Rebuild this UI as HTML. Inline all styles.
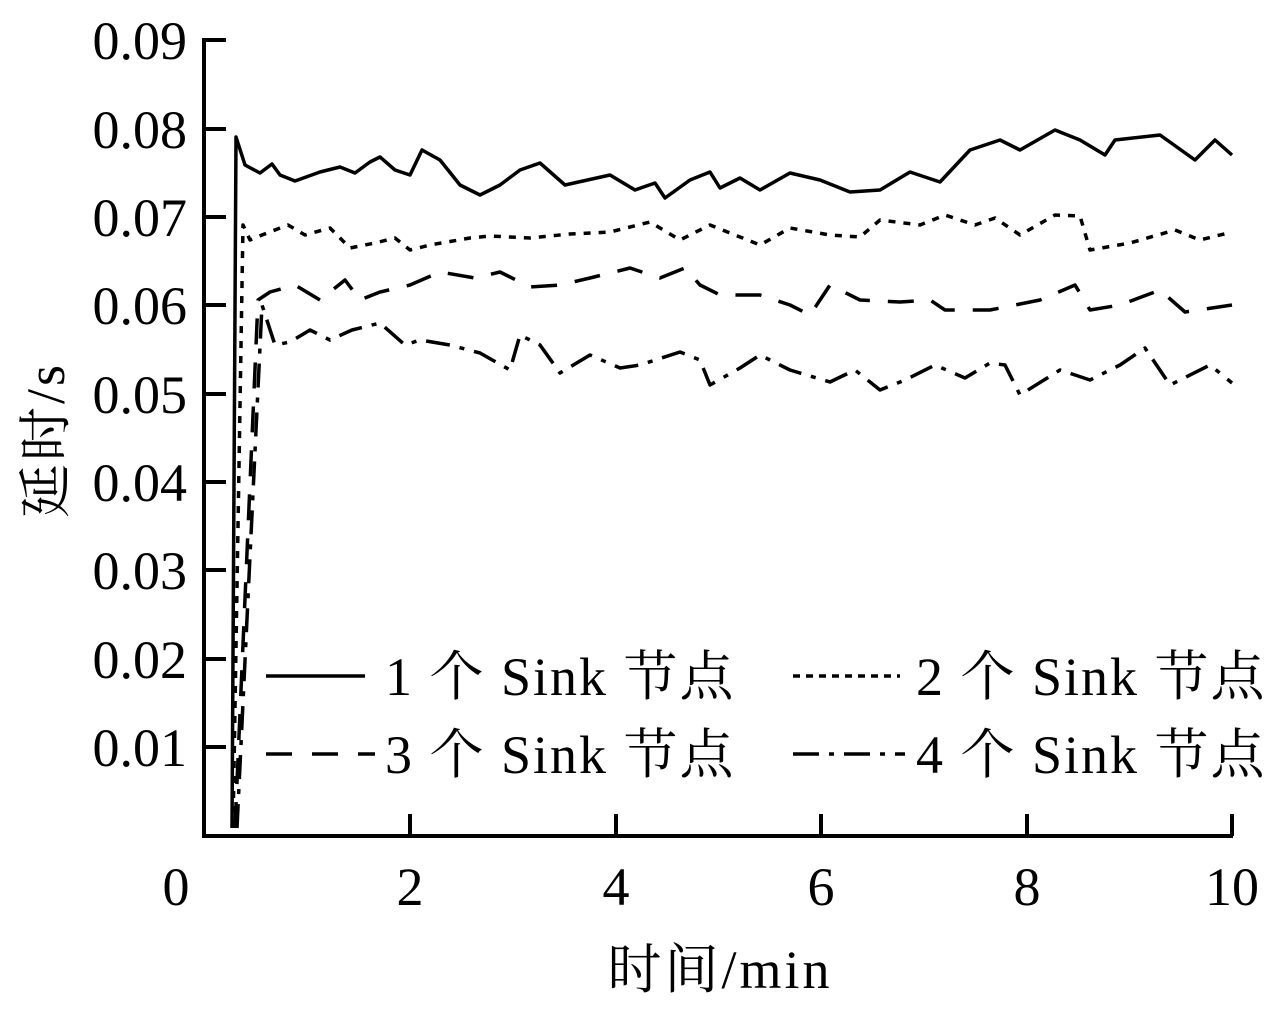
<!DOCTYPE html>
<html><head><meta charset="utf-8"><style>
html,body{margin:0;padding:0;background:#fff}
svg text{font-family:"Liberation Serif","Noto Serif CJK SC",serif;fill:#000}
</style></head><body>
<svg width="1275" height="1007" viewBox="0 0 1275 1007" xmlns="http://www.w3.org/2000/svg">
<g stroke="#000" stroke-width="4" fill="none">
<path d="M204,38 V836 H1233"/>
<path d="M204,40 H226 M204,129 H226 M204,217 H226 M204,305 H226 M204,394 H226 M204,482 H226 M204,570 H226 M204,659 H226 M204,747 H226"/>
<path d="M410,836 V814 M616,836 V814 M821,836 V814 M1027,836 V814 M1232,836 V814"/>
</g>
<g font-size="54" text-anchor="end">
<text x="187" y="59">0.09</text><text x="187" y="148">0.08</text><text x="187" y="236">0.07</text>
<text x="187" y="324">0.06</text><text x="187" y="413">0.05</text><text x="187" y="501">0.04</text>
<text x="187" y="589">0.03</text><text x="187" y="678">0.02</text><text x="187" y="766">0.01</text>
</g>
<g font-size="54" text-anchor="middle">
<text x="176" y="905">0</text><text x="410" y="905">2</text><text x="616" y="905">4</text>
<text x="821" y="905">6</text><text x="1027" y="905">8</text><text x="1232" y="905">10</text>
<text x="720" y="988" letter-spacing="3">时间/min</text>
<text transform="translate(64,440) rotate(-90)" letter-spacing="3">延时/s</text>
</g>
<g fill="none" stroke="#000" stroke-width="3.5" stroke-linejoin="round">
<polyline points="232,828 236,137 245,165 260,173 272,164 280,175 295,181 320,172 340,167 355,173 370,162 380,157 395,170 410,175 422,150 440,160 460,185 480,195 500,185 520,170 540,163 565,185 610,175 635,190 655,183 665,198 690,180 710,172 720,188 740,178 760,190 790,173 820,180 850,192 880,190 910,172 940,182 970,150 1000,140 1020,150 1055,130 1080,140 1105,155 1115,140 1160,135 1195,160 1215,140 1232,155"/>
<polyline stroke-dasharray="7,8" points="233,828 243,225 250,240 262,235 288,225 305,235 330,228 350,248 375,243 395,238 410,250 430,245 470,238 490,236 530,238 570,234 610,232 650,222 680,240 710,225 760,245 790,228 830,235 860,237 880,220 920,225 945,215 975,225 995,218 1020,235 1055,215 1080,216 1090,250 1130,243 1175,230 1200,240 1232,232"/>
<polyline stroke-dasharray="26,18" points="235,828 258,300 270,292 295,285 320,300 345,280 360,300 380,292 410,285 440,272 475,278 500,272 530,287 560,285 590,278 630,268 660,278 685,268 700,285 720,295 760,295 790,305 810,315 830,285 860,300 900,302 930,300 945,310 990,310 1040,300 1075,285 1090,310 1120,305 1160,290 1185,312 1232,305"/>
<polyline stroke-dasharray="24,10,5,10" points="237,828 262,305 275,345 290,342 310,330 330,340 352,330 380,323 405,345 420,340 450,345 480,353 510,370 520,335 540,345 560,373 590,355 620,368 640,365 680,352 700,360 710,385 740,368 760,355 790,370 830,382 855,370 880,390 905,380 935,365 965,378 990,363 1005,365 1020,395 1060,370 1090,380 1120,365 1145,348 1170,385 1210,365 1232,383"/>
<line x1="266" y1="676" x2="365" y2="676"/>
<line x1="793" y1="676" x2="900" y2="676" stroke-dasharray="7,6"/>
<line x1="266" y1="754" x2="375" y2="754" stroke-dasharray="26,20"/>
<line x1="793" y1="754" x2="905" y2="754" stroke-dasharray="26,10,5,10"/>
</g>
<g font-size="54" letter-spacing="2">
<text x="385" y="695">1 个 Sink 节点</text>
<text x="916" y="695">2 个 Sink 节点</text>
<text x="385" y="773">3 个 Sink 节点</text>
<text x="916" y="773">4 个 Sink 节点</text>
</g>
</svg>
</body></html>
